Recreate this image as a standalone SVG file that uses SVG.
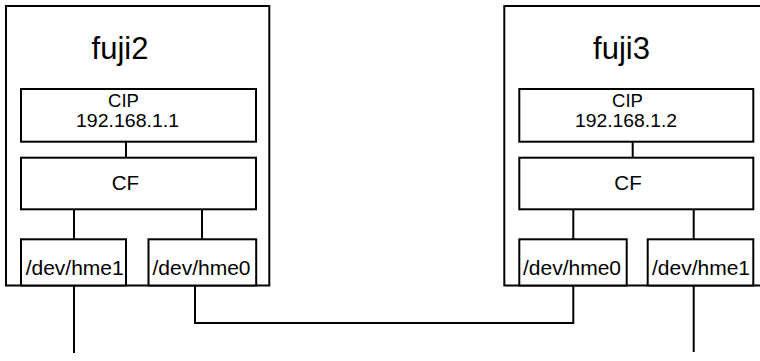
<svg xmlns="http://www.w3.org/2000/svg" width="760" height="361" viewBox="0 0 760 361">
  <style>
    .box { fill: #fff; stroke: #000; stroke-width: 2; }
    .frame { fill: none; stroke: #000; stroke-width: 2; }
    .wire { fill: none; stroke: #000; stroke-width: 2; }
    text { font-family: "Liberation Sans", Arial, Helvetica, sans-serif; fill: #000; text-anchor: middle; }
    .host { font-size: 31px; }
    .lbl { font-size: 18.5px; }
    .cf { font-size: 20.5px; }
    .nic { font-size: 21px; }
  </style>

  <rect width="760" height="361" fill="#fff"/>

  <!-- host fuji2 -->
  <g id="host-fuji2">
    <rect class="frame" x="6" y="6" width="263.3" height="279.5"/>
    <text class="host" x="120" y="59">fuji2</text>
  </g>
  <g id="cip-fuji2">
    <rect class="box" x="21" y="89" width="235" height="52.7"/>
    <text class="lbl" x="123.5" y="107">CIP</text>
    <text class="lbl" x="127.5" y="127" textLength="103" lengthAdjust="spacingAndGlyphs">192.168.1.1</text>
  </g>
  <g id="cf-fuji2">
    <rect class="box" x="21" y="157.7" width="235" height="51.6"/>
    <text class="cf" x="125.4" y="189.5">CF</text>
  </g>
  <g id="hme1-fuji2">
    <rect class="box" x="21" y="239.3" width="105" height="46.2"/>
    <text class="nic" x="74.7" y="274.5">/dev/hme1</text>
  </g>
  <g id="hme0-fuji2">
    <rect class="box" x="148.5" y="239.3" width="107.7" height="46.2"/>
    <text class="nic" x="201.5" y="274.5">/dev/hme0</text>
  </g>

  <!-- host fuji3 (frame runs past the right edge) -->
  <g id="host-fuji3">
    <rect class="frame" x="504.3" y="6" width="264" height="279.5"/>
    <text class="host" x="621.5" y="59">fuji3</text>
  </g>
  <g id="cip-fuji3">
    <rect class="box" x="519.3" y="89" width="234" height="52.7"/>
    <text class="lbl" x="627.5" y="107">CIP</text>
    <text class="lbl" x="626" y="127" textLength="102" lengthAdjust="spacingAndGlyphs">192.168.1.2</text>
  </g>
  <g id="cf-fuji3">
    <rect class="box" x="519.3" y="157.7" width="234" height="51.6"/>
    <text class="cf" x="628" y="189.5">CF</text>
  </g>
  <g id="hme0-fuji3">
    <rect class="box" x="519.3" y="239.3" width="107.4" height="46.2"/>
    <text class="nic" x="572" y="274.5">/dev/hme0</text>
  </g>
  <g id="hme1-fuji3">
    <rect class="box" x="647.7" y="239.3" width="105.6" height="46.2"/>
    <text class="nic" x="701" y="274.5">/dev/hme1</text>
  </g>

  <!-- connectors -->
  <g id="connectors">
    <line class="wire" x1="126" y1="141.7" x2="126" y2="157.7"/>
    <line class="wire" x1="74" y1="209.3" x2="74" y2="239.3"/>
    <line class="wire" x1="202" y1="209.3" x2="202" y2="239.3"/>
    <line class="wire" x1="632.7" y1="141.7" x2="632.7" y2="157.7"/>
    <line class="wire" x1="573.3" y1="209.3" x2="573.3" y2="239.3"/>
    <line class="wire" x1="693.7" y1="209.3" x2="693.7" y2="239.3"/>
    <!-- private interconnect hme0 <-> hme0 -->
    <polyline class="wire" points="195,285.5 195,323 573.3,323 573.3,285.5"/>
    <!-- public hme1 drops -->
    <line class="wire" x1="74" y1="285.5" x2="74" y2="353"/>
    <line class="wire" x1="693.7" y1="285.5" x2="693.7" y2="352"/>
  </g>
</svg>
